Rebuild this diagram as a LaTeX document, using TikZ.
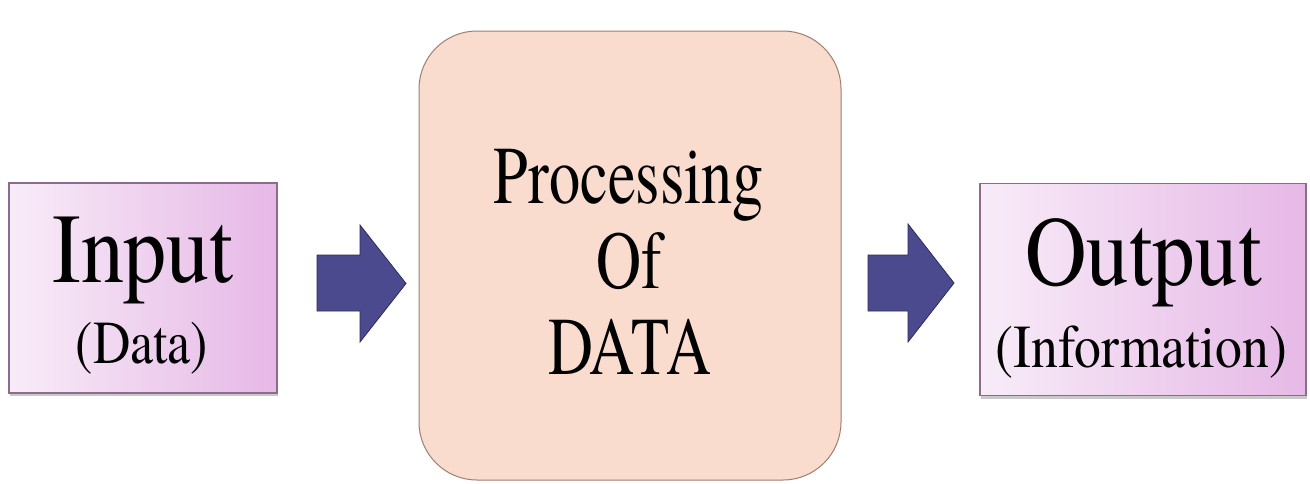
\documentclass[tikz,border=0pt]{standalone}
\usepackage{fontspec}
\setmainfont{texgyretermes}[Extension=.otf, UprightFont=*-regular]
\usetikzlibrary{shadows}
\definecolor{boxL}{RGB}{248,236,248}
\definecolor{boxR}{RGB}{230,184,230}
\definecolor{boxEdge}{RGB}{140,108,140}
\definecolor{procFill}{RGB}{249,220,206}
\definecolor{procEdge}{RGB}{158,126,110}
\definecolor{arrowFill}{RGB}{76,74,142}
\definecolor{arrowEdge}{RGB}{44,44,88}
\newcommand{\hsq}[2]{\scalebox{#1}[1]{#2}}
\begin{document}
\begin{tikzpicture}[x=1pt,y=-1pt,
  iobox/.style={draw=boxEdge, line width=1.2pt, left color=boxL, right color=boxR,
    inner sep=0pt, outer sep=0pt,
    drop shadow={shadow xshift=1pt, shadow yshift=-3pt, opacity=0.35, fill=black!60}},
  procbox/.style={draw=procEdge, line width=1pt, fill=procFill, rounded corners=58pt,
    inner sep=0pt, outer sep=0pt},
  blockarrow/.style={fill=arrowFill, draw=arrowEdge, line width=0.8pt, line join=miter},
  bigtxt/.style={font=\fontsize{99}{99}\selectfont, anchor=base, inner sep=0pt},
  subtxt/.style={font=\fontsize{61}{61}\selectfont, anchor=base, inner sep=0pt},
  proctxt/.style={font=\fontsize{82}{82}\selectfont, anchor=base, inner sep=0pt}
]
\useasboundingbox (0,0) rectangle (1310,483);
\fill[white] (0,0) rectangle (1310,483);

% boxes
\node[iobox, minimum width=268pt, minimum height=210pt] (inbox) at (143,288) {};
\node[procbox, minimum width=422pt, minimum height=449pt] (procbox) at (630,255.5) {};
\node[iobox, minimum width=326pt, minimum height=212pt] (outbox) at (1143,289.5) {};

% texts
\node[bigtxt] (intxt) at (143,282) {\hsq{0.87}{Input}};
\node[subtxt] (insub) at (142,363) {\hsq{0.85}{(Data)}};
\node[proctxt] (p1) at (629,203) {\hsq{0.76}{Processing}};
\node[proctxt] (p2) at (629,288) {\hsq{0.76}{Of}};
\node[proctxt] (p3) at (630,374) {\hsq{0.76}{DATA}};
\node[bigtxt] (outtxt) at (1143.5,285) {\hsq{0.86}{Output}};
\node[subtxt] (outsub) at (1141.5,367) {\hsq{0.88}{(Information)}};

% block arrows
\draw[blockarrow] (317,255) -- (360,255) -- (360,225) -- (406,283.5) -- (360,342) -- (360,311) -- (317,311) -- cycle;
\draw[blockarrow] (868,255) -- (908,255) -- (908,224) -- (954,283) -- (908,342) -- (908,311) -- (868,311) -- cycle;
\end{tikzpicture}
\end{document}
